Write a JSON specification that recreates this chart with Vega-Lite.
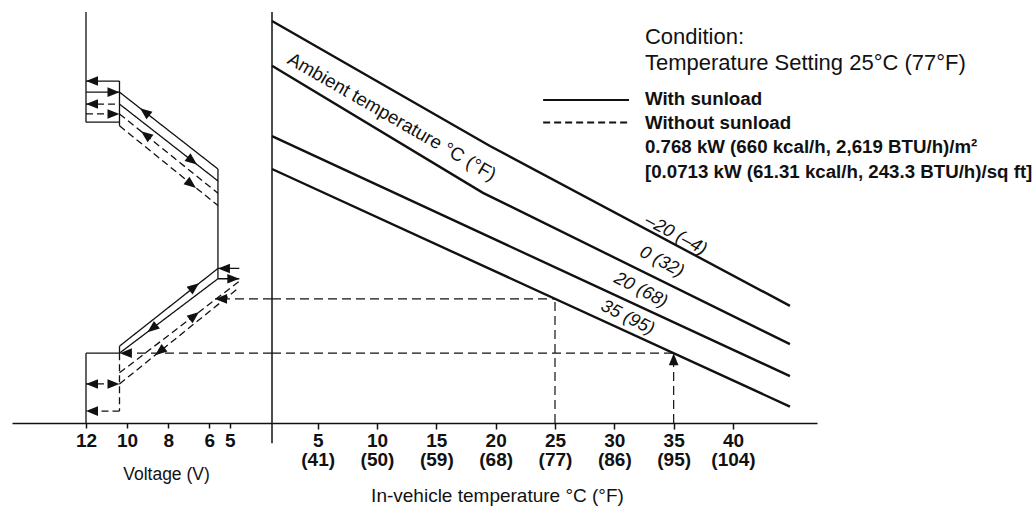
{
  "$schema": "https://vega.github.io/schema/vega-lite/v6.json",
  "background": "white",
  "padding": {"left": 12, "top": 11, "right": 2, "bottom": 2},
  "config": {
    "view": {"stroke": null},
    "font": "Liberation Sans",
    "axis": {"grid": false, "domainColor": "#111", "domainWidth": 1.5, "tickColor": "#111", "tickWidth": 1.5, "labelColor": "#111", "titleColor": "#111", "labelFlush": false, "labelOverlap": false}
  },
  "datasets": {
    "voltSegments": [
      {"v": 12, "l": 100, "v2": 12, "l2": 73.2, "load": "With sunload"},
      {"v": 12, "l": 83.2, "v2": 10.37, "l2": 83.2, "load": "With sunload"},
      {"v": 10.37, "l": 83.2, "v2": 10.37, "l2": 73.2, "load": "With sunload"},
      {"v": 12, "l": 73.2, "v2": 10.37, "l2": 73.2, "load": "With sunload"},
      {"v": 12, "l": 80.5, "v2": 10.37, "l2": 80.5, "load": "With sunload"},
      {"v": 12, "l": 77.6, "v2": 10.37, "l2": 77.6, "load": "Without sunload"},
      {"v": 12, "l": 75.2, "v2": 10.37, "l2": 75.2, "load": "Without sunload"},
      {"v": 10.37, "l": 73.2, "v2": 10.37, "l2": 72.3, "load": "Without sunload"},
      {"v": 10.37, "l": 80.5, "v2": 5.58, "l2": 61.8, "load": "With sunload"},
      {"v": 10.37, "l": 77.6, "v2": 5.58, "l2": 58.9, "load": "With sunload"},
      {"v": 10.37, "l": 75.2, "v2": 5.58, "l2": 55.9, "load": "Without sunload"},
      {"v": 10.37, "l": 72.3, "v2": 5.58, "l2": 52.9, "load": "Without sunload"},
      {"v": 5.58, "l": 61.8, "v2": 5.58, "l2": 35.1, "load": "With sunload"},
      {"v": 5.58, "l": 37.6, "v2": 4.54, "l2": 37.6, "load": "With sunload"},
      {"v": 5.58, "l": 35.1, "v2": 4.54, "l2": 35.1, "load": "With sunload"},
      {"v": 10.37, "l": 18.7, "v2": 5.58, "l2": 37.6, "load": "With sunload"},
      {"v": 5.58, "l": 35.1, "v2": 10.37, "l2": 17.0, "load": "With sunload"},
      {"v": 10.37, "l": 18.7, "v2": 10.37, "l2": 17.0, "load": "With sunload"},
      {"v": 12, "l": 17.0, "v2": 10.37, "l2": 17.0, "load": "With sunload"},
      {"v": 12, "l": 17.0, "v2": 12, "l2": 0, "load": "With sunload"},
      {"v": 10.37, "l": 17.0, "v2": 10.37, "l2": 2.9, "load": "Without sunload"},
      {"v": 10.37, "l": 2.9, "v2": 12, "l2": 2.9, "load": "Without sunload"},
      {"v": 12, "l": 9.5, "v2": 10.37, "l2": 9.5, "load": "Without sunload"},
      {"v": 10.37, "l": 12.2, "v2": 4.54, "l2": 34.5, "load": "Without sunload"},
      {"v": 10.37, "l": 9.5, "v2": 4.54, "l2": 33.0, "load": "Without sunload"}
    ],
    "voltGuides": [
      {"v": 2.95, "l": 30.2, "v2": 5.72, "l2": 30.2},
      {"v": 2.95, "l": 17.0, "v2": 10.35, "l2": 17.0}
    ],
    "voltArrows": [
      {"v": 12, "l": 83.2, "dir": "left"},
      {"v": 10.37, "l": 80.5, "dir": "right"},
      {"v": 12, "l": 77.6, "dir": "left"},
      {"v": 10.37, "l": 75.2, "dir": "right"},
      {"v": 9.37, "l": 76.6, "dir": "upleft"},
      {"v": 6.6, "l": 62.9, "dir": "downright"},
      {"v": 9.32, "l": 71.0, "dir": "upleft"},
      {"v": 6.65, "l": 57.2, "dir": "downright"},
      {"v": 5.58, "l": 37.6, "dir": "left"},
      {"v": 4.54, "l": 35.1, "dir": "right"},
      {"v": 6.5, "l": 34.0, "dir": "upright"},
      {"v": 9.01, "l": 22.1, "dir": "downleft"},
      {"v": 10.35, "l": 17.0, "dir": "left"},
      {"v": 12, "l": 9.5, "dir": "left"},
      {"v": 10.37, "l": 9.5, "dir": "right"},
      {"v": 12, "l": 2.9, "dir": "left"},
      {"v": 6.5, "l": 27.0, "dir": "upright"},
      {"v": 8.64, "l": 16.5, "dir": "downleft"},
      {"v": 5.72, "l": 30.2, "dir": "left"}
    ],
    "curves": [
      {"amb": "-20", "t": 1.15, "v": 97.8},
      {"amb": "-20", "t": 19.52, "v": 67.4},
      {"amb": "-20", "t": 44.8, "v": 28.5},
      {"amb": "0", "t": 1.15, "v": 86.9},
      {"amb": "0", "t": 18.93, "v": 56.0},
      {"amb": "0", "t": 44.8, "v": 19.2},
      {"amb": "20", "t": 1.15, "v": 69.8},
      {"amb": "20", "t": 44.8, "v": 11.4},
      {"amb": "35", "t": 1.15, "v": 61.8},
      {"amb": "35", "t": 44.8, "v": 4.0}
    ],
    "curveLabels": [
      {"amb": "-20", "text": "–20 (–4)", "t": 35.18, "v": 45.7},
      {"amb": "0", "text": "0 (32)", "t": 33.99, "v": 39.2},
      {"amb": "20", "text": "20 (68)", "t": 32.23, "v": 32.3},
      {"amb": "35", "text": "35 (95)", "t": 31.11, "v": 25.6}
    ],
    "tempGuides": [
      {"t": 25, "v": 0, "t2": 25, "v2": 30.2},
      {"t": 1.15, "v": 30.2, "t2": 25, "v2": 30.2},
      {"t": 35, "v": 0, "t2": 35, "v2": 17.0},
      {"t": 1.15, "v": 17.0, "t2": 35, "v2": 17.0}
    ],
    "frame": [
      {"t": 1.15, "v": -4.9, "t2": 1.15, "v2": 100}
    ],
    "tempArrows": [
      {"t": 35, "v": 17.0, "dir": "up"}
    ],
    "legendSamples": [
      {"load": "With sunload", "t": 24.0, "t2": 31.24, "v": 78.6},
      {"load": "Without sunload", "t": 24.0, "t2": 31.24, "v": 73.1}
    ],
    "conditionNotes": [
      {"text": "Condition:", "t": 32.58, "v": 92.3},
      {"text": "Temperature Setting 25°C (77°F)", "t": 32.58, "v": 85.8}
    ],
    "legendNotes": [
      {"text": "With sunload", "t": 32.58, "v": 77.4},
      {"text": "Without sunload", "t": 32.58, "v": 71.5},
      {"text": "0.768 kW (660 kcal/h, 2,619 BTU/h)/m²", "t": 32.58, "v": 65.8},
      {"text": "[0.0713 kW (61.31 kcal/h, 243.3 BTU/h)/sq ft]", "t": 32.58, "v": 59.7}
    ],
    "ambientTitle": [
      {"text": "Ambient temperature °C (°F)", "t": 11.26, "v": 74.5}
    ]
  },
  "hconcat": [
    {
      "width": 260,
      "height": 411,
      "layer": [
        {
          "data": {"name": "voltSegments"},
          "mark": {"type": "rule", "strokeWidth": 1.3, "color": "#111"},
          "encoding": {
            "x": {"field": "v", "type": "quantitative", "scale": {"domain": [2.95, 15.6], "reverse": true, "nice": false, "zero": false},
              "axis": {"values": [12, 10, 8, 6, 5], "format": "d", "title": "Voltage (V)", "labelFontWeight": "bold", "labelFontSize": 19, "labelPadding": 3, "tickSize": 5, "titleFontSize": 17.5, "titleFontWeight": "normal", "titleX": 154, "titleY": 56, "titleBaseline": "alphabetic", "titleAlign": "center"}},
            "x2": {"field": "v2"},
            "y": {"field": "l", "type": "quantitative", "scale": {"domain": [0, 100], "nice": false, "zero": false}, "axis": null},
            "y2": {"field": "l2"},
            "strokeDash": {"field": "load", "type": "nominal", "scale": {"domain": ["With sunload", "Without sunload"], "range": [[1, 0], [7, 4]]}, "legend": null}
          }
        },
        {
          "data": {"name": "voltGuides"},
          "mark": {"type": "rule", "strokeWidth": 1.2, "color": "#111", "strokeDash": [9, 5]},
          "encoding": {
            "x": {"field": "v", "type": "quantitative"},
            "x2": {"field": "v2"},
            "y": {"field": "l", "type": "quantitative"},
            "y2": {"field": "l2"}
          }
        },
        {
          "data": {"name": "voltArrows"},
          "mark": {"type": "point", "filled": true, "size": 144, "color": "#111", "opacity": 1, "strokeWidth": 0},
          "encoding": {
            "x": {"field": "v", "type": "quantitative"},
            "y": {"field": "l", "type": "quantitative"},
            "shape": {"field": "dir", "type": "nominal", "legend": null,
              "scale": {"domain": ["left", "right", "up", "upleft", "downright", "upright", "downleft"],
                "range": ["M0,0L2,-0.8L2,0.8Z", "M0,0L-2,-0.8L-2,0.8Z", "M0,0L0.8,2L-0.8,2Z", "M0,0L2.07,0.6L1.08,1.86Z", "M0,0L-2.07,-0.6L-1.08,-1.86Z", "M0,0L-1.08,1.86L-2.07,0.6Z", "M0,0L1.08,-1.86L2.07,-0.6Z"]}}
          }
        }
      ]
    },
    {
      "width": 545,
      "height": 411,
      "layer": [
        {
          "data": {"name": "curves"},
          "mark": {"type": "line", "strokeWidth": 2.4, "color": "#111"},
          "encoding": {
            "x": {"field": "t", "type": "quantitative", "scale": {"domain": [1.15, 47.08], "nice": false, "zero": false},
              "axis": {"values": [5, 10, 15, 20, 25, 30, 35, 40], "title": "In-vehicle temperature °C (°F)", "labelExpr": "[datum.label, '(' + format(datum.value * 9 / 5 + 32, 'd') + ')']", "labelFontWeight": "bold", "labelFontSize": 19, "labelLineHeight": 19, "labelPadding": 2, "tickSize": 6, "titleFontSize": 19, "titleFontWeight": "normal", "titleX": 225, "titleY": 78, "titleBaseline": "alphabetic", "titleAlign": "center"}},
            "y": {"field": "v", "type": "quantitative", "scale": {"domain": [0, 100], "nice": false, "zero": false}, "axis": null},
            "detail": {"field": "amb", "type": "nominal"}
          }
        },
        {
          "data": {"name": "tempGuides"},
          "mark": {"type": "rule", "strokeWidth": 1.2, "color": "#111", "strokeDash": [9, 5]},
          "encoding": {
            "x": {"field": "t", "type": "quantitative"},
            "x2": {"field": "t2"},
            "y": {"field": "v", "type": "quantitative"},
            "y2": {"field": "v2"}
          }
        },
        {
          "data": {"name": "frame"},
          "mark": {"type": "rule", "strokeWidth": 1.5, "color": "#111"},
          "encoding": {
            "x": {"field": "t", "type": "quantitative"},
            "x2": {"field": "t2"},
            "y": {"field": "v", "type": "quantitative"},
            "y2": {"field": "v2"}
          }
        },
        {
          "data": {"name": "legendSamples"},
          "mark": {"type": "rule", "strokeWidth": 2, "color": "#111"},
          "encoding": {
            "x": {"field": "t", "type": "quantitative"},
            "x2": {"field": "t2"},
            "y": {"field": "v", "type": "quantitative"},
            "strokeDash": {"field": "load", "type": "nominal", "scale": {"domain": ["With sunload", "Without sunload"], "range": [[1, 0], [7, 4]]}, "legend": null}
          }
        },
        {
          "data": {"name": "tempArrows"},
          "mark": {"type": "point", "filled": true, "size": 144, "color": "#111", "opacity": 1, "strokeWidth": 0},
          "encoding": {
            "x": {"field": "t", "type": "quantitative"},
            "y": {"field": "v", "type": "quantitative"},
            "shape": {"field": "dir", "type": "nominal", "legend": null,
              "scale": {"domain": ["up"], "range": ["M0,0L0.8,2L-0.8,2Z"]}}
          }
        },
        {
          "data": {"name": "conditionNotes"},
          "mark": {"type": "text", "align": "left", "baseline": "alphabetic", "fontSize": 22, "color": "#111"},
          "encoding": {
            "x": {"field": "t", "type": "quantitative"},
            "y": {"field": "v", "type": "quantitative"},
            "text": {"field": "text"}
          }
        },
        {
          "data": {"name": "legendNotes"},
          "mark": {"type": "text", "align": "left", "baseline": "alphabetic", "fontSize": 18.7, "fontWeight": "bold", "color": "#111"},
          "encoding": {
            "x": {"field": "t", "type": "quantitative"},
            "y": {"field": "v", "type": "quantitative"},
            "text": {"field": "text"}
          }
        },
        {
          "data": {"name": "curveLabels"},
          "mark": {"type": "text", "align": "center", "baseline": "middle", "fontSize": 18, "fontStyle": "italic", "color": "#111"},
          "encoding": {
            "x": {"field": "t", "type": "quantitative"},
            "y": {"field": "v", "type": "quantitative"},
            "text": {"field": "text"},
            "angle": {"field": "amb", "type": "nominal", "legend": null, "scale": {"domain": ["-20", "0", "20", "35"], "range": [28, 26.5, 25, 24.5]}}
          }
        },
        {
          "data": {"name": "ambientTitle"},
          "mark": {"type": "text", "align": "center", "baseline": "middle", "fontSize": 18.7, "angle": 30, "color": "#111"},
          "encoding": {
            "x": {"field": "t", "type": "quantitative"},
            "y": {"field": "v", "type": "quantitative"},
            "text": {"field": "text"}
          }
        }
      ]
    }
  ],
  "spacing": 0,
  "bounds": "flush"
}
